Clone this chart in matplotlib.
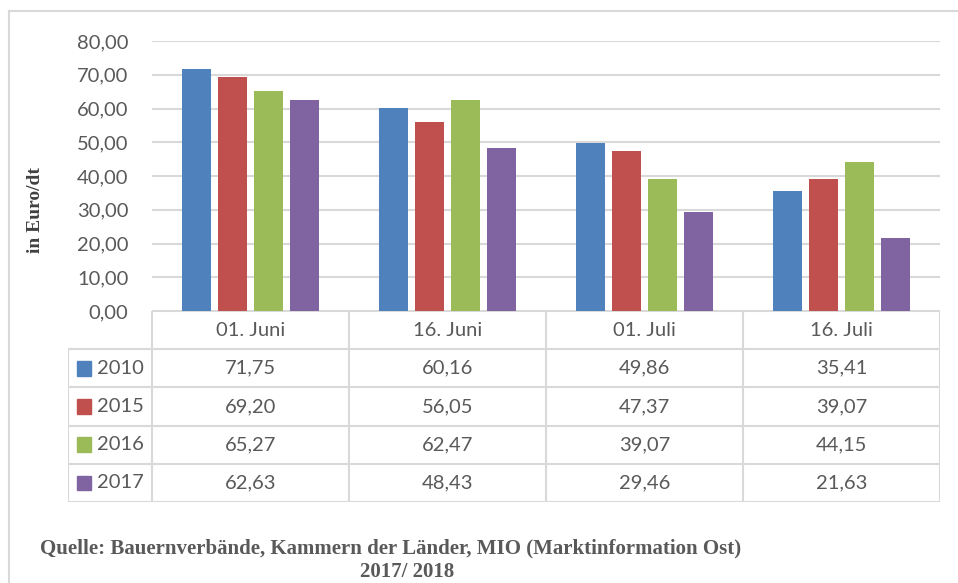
import matplotlib.pyplot as plt
import numpy as np

# Preise in Euro/dt zu vier Stichtagen
dates = ["01. Juni", "16. Juni", "01. Juli", "16. Juli"]
years = ["2010", "2015", "2016", "2017"]
v2010 = [71.75, 60.16, 49.86, 35.41]
v2015 = [69.20, 56.05, 47.37, 39.07]
v2016 = [65.27, 62.47, 39.07, 44.15]
v2017 = [62.63, 48.43, 29.46, 21.63]
colors = ["#4F81BD", "#C0504D", "#9BBB59", "#8064A2"]
yticks = [0, 10, 20, 30, 40, 50, 60, 70, 80]

series = [v2010, v2015, v2016, v2017]
W, H = 958, 583
grey = "#595959"
line = "#d9d9d9"
font = "Lato"
fs = 14.5

fig = plt.figure(figsize=(W / 100, H / 100), dpi=100)

def box(x0, y0, x1, y1):
    # pixel box (top-left origin) -> figure fraction
    return [x0 / W, 1 - y1 / H, (x1 - x0) / W, (y1 - y0) / H]

# outer frame
frame = fig.add_axes([0, 0, 1, 1])
frame.set_xlim(0, W)
frame.set_ylim(H, 0)
frame.axis("off")
frame.plot([9, W], [11, 11], color=line, lw=1.5)
frame.plot([9, 9], [11, H], color=line, lw=1.5)

# bar chart
ax = fig.add_axes(box(152, 41, 940, 311))
x = np.arange(len(dates))
bw = 0.147
step = 0.183
for i, vals in enumerate(series):
    ax.bar(x + (i - 1.5) * step, vals, width=bw, color=colors[i], zorder=3)
ax.set_xlim(-0.5, len(dates) - 0.5)
ax.set_ylim(0, 80)
ax.set_yticks(yticks)
ax.set_yticklabels([f"{t:.2f}".replace(".", ",") for t in yticks],
                   fontsize=fs, color=grey, family=font)
ax.tick_params(axis="y", length=0, pad=17)
ax.set_xticks([])
ax.grid(axis="y", color=line, lw=1.5, zorder=0)
for s in ax.spines.values():
    s.set_visible(False)

fig.text(35 / W, 1 - 210 / H, "in Euro/dt", rotation=90, ha="center", va="center",
         fontsize=14, fontweight="bold", family="Liberation Serif", color="#404040")

# data table
leg_w = 84 / 197
tb = fig.add_axes(box(68, 311, 940, 502))
tb.set_xlim(-0.5 - leg_w, len(dates) - 0.5)
tb.set_ylim(len(years) + 1, 0)
tb.axis("off")
lk = dict(color=line, lw=1.5, solid_capstyle="projecting")
tb.plot([-0.5, len(dates) - 0.5], [0, 0], **lk)
for r in range(1, len(years) + 2):
    tb.plot([-0.5 - leg_w, len(dates) - 0.5], [r, r], **lk)
tb.plot([-0.5 - leg_w] * 2, [1, len(years) + 1], **lk)
for c in range(len(dates) + 1):
    tb.plot([c - 0.5] * 2, [0, len(years) + 1], **lk)
for c, d in enumerate(dates):
    tb.text(c, 0.5, d, ha="center", va="center", fontsize=fs, color=grey, family=font)
for r, (yr, vals) in enumerate(zip(years, series)):
    tb.add_patch(plt.Rectangle((-0.5 - leg_w + 0.045, r + 1.31), 0.072, 0.38,
                               color=colors[r]))
    tb.text(-0.5 - leg_w + 0.145, r + 1.5, yr, ha="left", va="center",
            fontsize=fs, color=grey, family=font)
    for c, v in enumerate(vals):
        tb.text(c, r + 1.5, f"{v:.2f}".replace(".", ","), ha="center", va="center",
                fontsize=fs, color=grey, family=font)

# source
fig.text(40 / W, 1 - 548 / H,
         "Quelle: Bauernverbände, Kammern der Länder, MIO (Marktinformation Ost)",
         ha="left", va="center", fontsize=15, fontweight="bold",
         family="Liberation Serif", color=grey)
fig.text(407 / W, 1 - 572 / H, "2017/ 2018", ha="center", va="center", fontsize=15,
         fontweight="bold", family="Liberation Serif", color=grey)

fig.savefig("out.png", dpi=100)
